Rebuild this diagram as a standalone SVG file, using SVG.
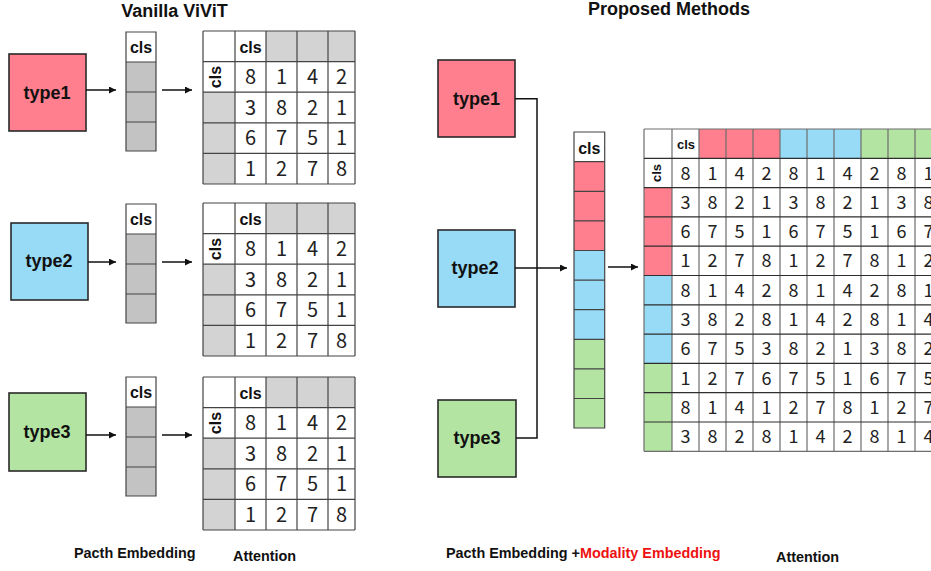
<svg xmlns="http://www.w3.org/2000/svg" width="931" height="571" viewBox="0 0 931 571">
<style>
text{font-family:"Liberation Sans",Arial,sans-serif;fill:#111}
.ttl{font-size:18px;font-weight:bold;text-anchor:middle}
.ty{font-size:18px;font-weight:bold;text-anchor:middle}
.c16{font-size:16px;font-weight:bold;text-anchor:middle}
.c13{font-size:13px;font-weight:bold;text-anchor:middle}
.n{font-family:"Noto Sans CJK JP","Liberation Sans",sans-serif;font-size:20px;font-weight:400;text-anchor:middle;fill:#222}
.m{font-family:"Noto Sans CJK JP","Liberation Sans",sans-serif;font-size:18px;font-weight:400;text-anchor:middle;fill:#222}
.lbl{font-size:14.4px;font-weight:bold}
.red{fill:#EE1111}
.box{stroke:#2a2a2a;stroke-width:1.6}
.pink{fill:#FF7F8E}
.blue{fill:#97DBF7}
.green{fill:#B4E4A2}
.g1{fill:#C3C3C3}
.g2{fill:#D3D3D3}
.w{fill:#fff}
.grid{fill:none;stroke:#444;stroke-width:1.2}
.gv{fill:none;stroke:#6e6e6e;stroke-width:1.2}
.gh{fill:none;stroke:#2e2e2e;stroke-width:1.2}
.cn{fill:none;stroke:#111;stroke-width:1.5}
</style>
<defs>
<marker id="ah" markerUnits="userSpaceOnUse" markerWidth="8" markerHeight="8" refX="7" refY="3.5" orient="auto">
<path d="M0,0L7,3.5L0,7Z" fill="#111"/>
</marker>
</defs>

<text class="ttl" x="174.5" y="17">Vanilla ViViT</text>
<text class="ttl" x="669" y="15">Proposed Methods</text>

<!-- Left: type boxes -->
<g id="L-type1"><rect class="box pink" x="9" y="54" width="77" height="77"/><text class="ty" x="47" y="99">type1</text></g>
<g id="L-type2"><rect class="box blue" x="11" y="223" width="77" height="77"/><text class="ty" x="49" y="267">type2</text></g>
<g id="L-type3"><rect class="box green" x="9" y="393" width="77" height="78"/><text class="ty" x="47" y="438">type3</text></g>

<!-- Left: embedding columns -->
<g id="L-col1">
<rect class="w" x="126" y="32" width="30" height="30"/><rect class="g1" x="126" y="62" width="30" height="89"/>
<path class="grid" d="M126,32H156V151H126Z M126,62H156 M126,92H156 M126,122H156"/>
<text class="c16" x="141" y="52.5">cls</text>
</g>
<g id="L-col2" transform="translate(0,172)">
<rect class="w" x="126" y="32" width="30" height="30"/><rect class="g1" x="126" y="62" width="30" height="89"/>
<path class="grid" d="M126,32H156V151H126Z M126,62H156 M126,92H156 M126,122H156"/>
<text class="c16" x="141" y="52.5">cls</text>
</g>
<g id="L-col3" transform="translate(0,345)">
<rect class="w" x="126" y="32" width="30" height="30"/><rect class="g1" x="126" y="62" width="30" height="89"/>
<path class="grid" d="M126,32H156V151H126Z M126,62H156 M126,92H156 M126,122H156"/>
<text class="c16" x="141" y="52.5">cls</text>
</g>

<!-- Left: attention matrices -->
<g id="L-att1">
<rect class="w" x="203" y="31" width="152" height="153"/>
<rect class="g2" x="266" y="31" width="89" height="30.6"/><rect class="g2" x="203" y="92.2" width="32" height="91.8"/>
<path class="grid" d="M203,31H355 M203,61.6H355 M203,92.2H355 M203,122.8H355 M203,153.4H355 M203,184H355 M203,31V184 M235,31V184 M266,31V184 M297,31V184 M328,31V184 M355,31V184"/>
<text class="c16" x="250.5" y="52.5">cls</text>
<text class="c16" transform="translate(221,77) rotate(-90)">cls</text>
<text class="n" x="250.5" y="84.2">8</text><text class="n" x="281.5" y="84.2">1</text><text class="n" x="312.5" y="84.2">4</text><text class="n" x="341.5" y="84.2">2</text>
<text class="n" x="250.5" y="114.8">3</text><text class="n" x="281.5" y="114.8">8</text><text class="n" x="312.5" y="114.8">2</text><text class="n" x="341.5" y="114.8">1</text>
<text class="n" x="250.5" y="145.4">6</text><text class="n" x="281.5" y="145.4">7</text><text class="n" x="312.5" y="145.4">5</text><text class="n" x="341.5" y="145.4">1</text>
<text class="n" x="250.5" y="176">1</text><text class="n" x="281.5" y="176">2</text><text class="n" x="312.5" y="176">7</text><text class="n" x="341.5" y="176">8</text>
</g>
<g id="L-att2" transform="translate(0,172)">
<rect class="w" x="203" y="31" width="152" height="153"/>
<rect class="g2" x="266" y="31" width="89" height="30.6"/><rect class="g2" x="203" y="92.2" width="32" height="91.8"/>
<path class="grid" d="M203,31H355 M203,61.6H355 M203,92.2H355 M203,122.8H355 M203,153.4H355 M203,184H355 M203,31V184 M235,31V184 M266,31V184 M297,31V184 M328,31V184 M355,31V184"/>
<text class="c16" x="250.5" y="52.5">cls</text>
<text class="c16" transform="translate(221,77) rotate(-90)">cls</text>
<text class="n" x="250.5" y="84.2">8</text><text class="n" x="281.5" y="84.2">1</text><text class="n" x="312.5" y="84.2">4</text><text class="n" x="341.5" y="84.2">2</text>
<text class="n" x="250.5" y="114.8">3</text><text class="n" x="281.5" y="114.8">8</text><text class="n" x="312.5" y="114.8">2</text><text class="n" x="341.5" y="114.8">1</text>
<text class="n" x="250.5" y="145.4">6</text><text class="n" x="281.5" y="145.4">7</text><text class="n" x="312.5" y="145.4">5</text><text class="n" x="341.5" y="145.4">1</text>
<text class="n" x="250.5" y="176">1</text><text class="n" x="281.5" y="176">2</text><text class="n" x="312.5" y="176">7</text><text class="n" x="341.5" y="176">8</text>
</g>
<g id="L-att3" transform="translate(0,346)">
<rect class="w" x="203" y="31" width="152" height="153"/>
<rect class="g2" x="266" y="31" width="89" height="30.6"/><rect class="g2" x="203" y="92.2" width="32" height="91.8"/>
<path class="grid" d="M203,31H355 M203,61.6H355 M203,92.2H355 M203,122.8H355 M203,153.4H355 M203,184H355 M203,31V184 M235,31V184 M266,31V184 M297,31V184 M328,31V184 M355,31V184"/>
<text class="c16" x="250.5" y="52.5">cls</text>
<text class="c16" transform="translate(221,77) rotate(-90)">cls</text>
<text class="n" x="250.5" y="84.2">8</text><text class="n" x="281.5" y="84.2">1</text><text class="n" x="312.5" y="84.2">4</text><text class="n" x="341.5" y="84.2">2</text>
<text class="n" x="250.5" y="114.8">3</text><text class="n" x="281.5" y="114.8">8</text><text class="n" x="312.5" y="114.8">2</text><text class="n" x="341.5" y="114.8">1</text>
<text class="n" x="250.5" y="145.4">6</text><text class="n" x="281.5" y="145.4">7</text><text class="n" x="312.5" y="145.4">5</text><text class="n" x="341.5" y="145.4">1</text>
<text class="n" x="250.5" y="176">1</text><text class="n" x="281.5" y="176">2</text><text class="n" x="312.5" y="176">7</text><text class="n" x="341.5" y="176">8</text>
</g>

<!-- Right: type boxes -->
<g id="R-type1"><rect class="box pink" x="438" y="60" width="77" height="77"/><text class="ty" x="476.5" y="104.5">type1</text></g>
<g id="R-type2"><rect class="box blue" x="438" y="230" width="77" height="77"/><text class="ty" x="475" y="274">type2</text></g>
<g id="R-type3"><rect class="box green" x="438" y="400" width="78" height="77"/><text class="ty" x="477" y="444">type3</text></g>

<!-- Right: embedding column -->
<g id="R-col">
<rect class="w" x="574" y="132" width="30.7" height="29.7"/>
<rect class="pink" x="574" y="161.7" width="30.7" height="88.8"/>
<rect class="blue" x="574" y="250.5" width="30.7" height="88.8"/>
<rect class="green" x="574" y="339.3" width="30.7" height="88.7"/>
<path class="grid" d="M574,132H604.7V428H574Z M574,161.7H604.7 M574,191.3H604.7 M574,220.9H604.7 M574,250.5H604.7 M574,280.1H604.7 M574,309.7H604.7 M574,339.3H604.7 M574,368.9H604.7 M574,398.5H604.7"/>
<text class="c16" x="589.3" y="154">cls</text>
</g>

<!-- Right: attention matrix -->
<g id="R-att">
<rect class="w" x="644" y="129" width="298" height="322.3"/>
<rect class="pink" x="699" y="129" width="81" height="29.3"/>
<rect class="blue" x="780" y="129" width="81" height="29.3"/>
<rect class="green" x="861" y="129" width="81" height="29.3"/>
<rect class="pink" x="644" y="187.6" width="28" height="87.9"/>
<rect class="blue" x="644" y="275.5" width="28" height="87.9"/>
<rect class="green" x="644" y="363.4" width="28" height="87.9"/>
<path class="gv" d="M644,129V451.3 M672,129V451.3 M699,129V451.3 M726,129V451.3 M753,129V451.3 M780,129V451.3 M807,129V451.3 M834,129V451.3 M861,129V451.3 M888,129V451.3 M915,129V451.3"/>
<path class="gh" d="M644,158.3H942 M644,187.6H942 M644,216.9H942 M644,246.2H942 M644,275.5H942 M644,304.8H942 M644,334.1H942 M644,363.4H942 M644,392.7H942 M644,422H942"/>
<path class="gv" d="M644,129H942 M644,451.3H942"/>
<text class="c13" x="686" y="149">cls</text>
<text class="c13" transform="translate(661,173) rotate(-90)">cls</text>
<text class="m" x="685.5" y="179.5">8</text><text class="m" x="712.5" y="179.5">1</text><text class="m" x="739.5" y="179.5">4</text><text class="m" x="766.5" y="179.5">2</text><text class="m" x="793.5" y="179.5">8</text><text class="m" x="820.5" y="179.5">1</text><text class="m" x="847.5" y="179.5">4</text><text class="m" x="874.5" y="179.5">2</text><text class="m" x="901.5" y="179.5">8</text><text class="m" x="928.5" y="179.5">1</text>
<text class="m" x="685.5" y="208.8">3</text><text class="m" x="712.5" y="208.8">8</text><text class="m" x="739.5" y="208.8">2</text><text class="m" x="766.5" y="208.8">1</text><text class="m" x="793.5" y="208.8">3</text><text class="m" x="820.5" y="208.8">8</text><text class="m" x="847.5" y="208.8">2</text><text class="m" x="874.5" y="208.8">1</text><text class="m" x="901.5" y="208.8">3</text><text class="m" x="928.5" y="208.8">8</text>
<text class="m" x="685.5" y="238.1">6</text><text class="m" x="712.5" y="238.1">7</text><text class="m" x="739.5" y="238.1">5</text><text class="m" x="766.5" y="238.1">1</text><text class="m" x="793.5" y="238.1">6</text><text class="m" x="820.5" y="238.1">7</text><text class="m" x="847.5" y="238.1">5</text><text class="m" x="874.5" y="238.1">1</text><text class="m" x="901.5" y="238.1">6</text><text class="m" x="928.5" y="238.1">7</text>
<text class="m" x="685.5" y="267.4">1</text><text class="m" x="712.5" y="267.4">2</text><text class="m" x="739.5" y="267.4">7</text><text class="m" x="766.5" y="267.4">8</text><text class="m" x="793.5" y="267.4">1</text><text class="m" x="820.5" y="267.4">2</text><text class="m" x="847.5" y="267.4">7</text><text class="m" x="874.5" y="267.4">8</text><text class="m" x="901.5" y="267.4">1</text><text class="m" x="928.5" y="267.4">2</text>
<text class="m" x="685.5" y="296.7">8</text><text class="m" x="712.5" y="296.7">1</text><text class="m" x="739.5" y="296.7">4</text><text class="m" x="766.5" y="296.7">2</text><text class="m" x="793.5" y="296.7">8</text><text class="m" x="820.5" y="296.7">1</text><text class="m" x="847.5" y="296.7">4</text><text class="m" x="874.5" y="296.7">2</text><text class="m" x="901.5" y="296.7">8</text><text class="m" x="928.5" y="296.7">1</text>
<text class="m" x="685.5" y="326">3</text><text class="m" x="712.5" y="326">8</text><text class="m" x="739.5" y="326">2</text><text class="m" x="766.5" y="326">8</text><text class="m" x="793.5" y="326">1</text><text class="m" x="820.5" y="326">4</text><text class="m" x="847.5" y="326">2</text><text class="m" x="874.5" y="326">8</text><text class="m" x="901.5" y="326">1</text><text class="m" x="928.5" y="326">4</text>
<text class="m" x="685.5" y="355.3">6</text><text class="m" x="712.5" y="355.3">7</text><text class="m" x="739.5" y="355.3">5</text><text class="m" x="766.5" y="355.3">3</text><text class="m" x="793.5" y="355.3">8</text><text class="m" x="820.5" y="355.3">2</text><text class="m" x="847.5" y="355.3">1</text><text class="m" x="874.5" y="355.3">3</text><text class="m" x="901.5" y="355.3">8</text><text class="m" x="928.5" y="355.3">2</text>
<text class="m" x="685.5" y="384.6">1</text><text class="m" x="712.5" y="384.6">2</text><text class="m" x="739.5" y="384.6">7</text><text class="m" x="766.5" y="384.6">6</text><text class="m" x="793.5" y="384.6">7</text><text class="m" x="820.5" y="384.6">5</text><text class="m" x="847.5" y="384.6">1</text><text class="m" x="874.5" y="384.6">6</text><text class="m" x="901.5" y="384.6">7</text><text class="m" x="928.5" y="384.6">5</text>
<text class="m" x="685.5" y="413.9">8</text><text class="m" x="712.5" y="413.9">1</text><text class="m" x="739.5" y="413.9">4</text><text class="m" x="766.5" y="413.9">1</text><text class="m" x="793.5" y="413.9">2</text><text class="m" x="820.5" y="413.9">7</text><text class="m" x="847.5" y="413.9">8</text><text class="m" x="874.5" y="413.9">1</text><text class="m" x="901.5" y="413.9">2</text><text class="m" x="928.5" y="413.9">7</text>
<text class="m" x="685.5" y="443.2">3</text><text class="m" x="712.5" y="443.2">8</text><text class="m" x="739.5" y="443.2">2</text><text class="m" x="766.5" y="443.2">8</text><text class="m" x="793.5" y="443.2">1</text><text class="m" x="820.5" y="443.2">4</text><text class="m" x="847.5" y="443.2">2</text><text class="m" x="874.5" y="443.2">8</text><text class="m" x="901.5" y="443.2">1</text><text class="m" x="928.5" y="443.2">4</text>
</g>

<!-- Connectors -->
<g id="connectors">
<path class="cn" d="M86,90H116" marker-end="url(#ah)"/>
<path class="cn" d="M162,90H192" marker-end="url(#ah)"/>
<path class="cn" d="M88,262H116" marker-end="url(#ah)"/>
<path class="cn" d="M162,262H192" marker-end="url(#ah)"/>
<path class="cn" d="M86,435H116" marker-end="url(#ah)"/>
<path class="cn" d="M162,435H192" marker-end="url(#ah)"/>
<path class="cn" d="M515,98.7H537V438H516"/>
<path class="cn" d="M515,268H567" marker-end="url(#ah)"/>
<path class="cn" d="M608,267H638" marker-end="url(#ah)"/>
</g>

<!-- Bottom labels -->
<text class="lbl" x="74" y="558">Pacth Embedding</text>
<text class="lbl" x="233" y="561">Attention</text>
<text class="lbl" x="446" y="558">Pacth Embedding +<tspan class="red">Modality Embedding</tspan></text>
<text class="lbl" x="776" y="561.5">Attention</text>
</svg>
